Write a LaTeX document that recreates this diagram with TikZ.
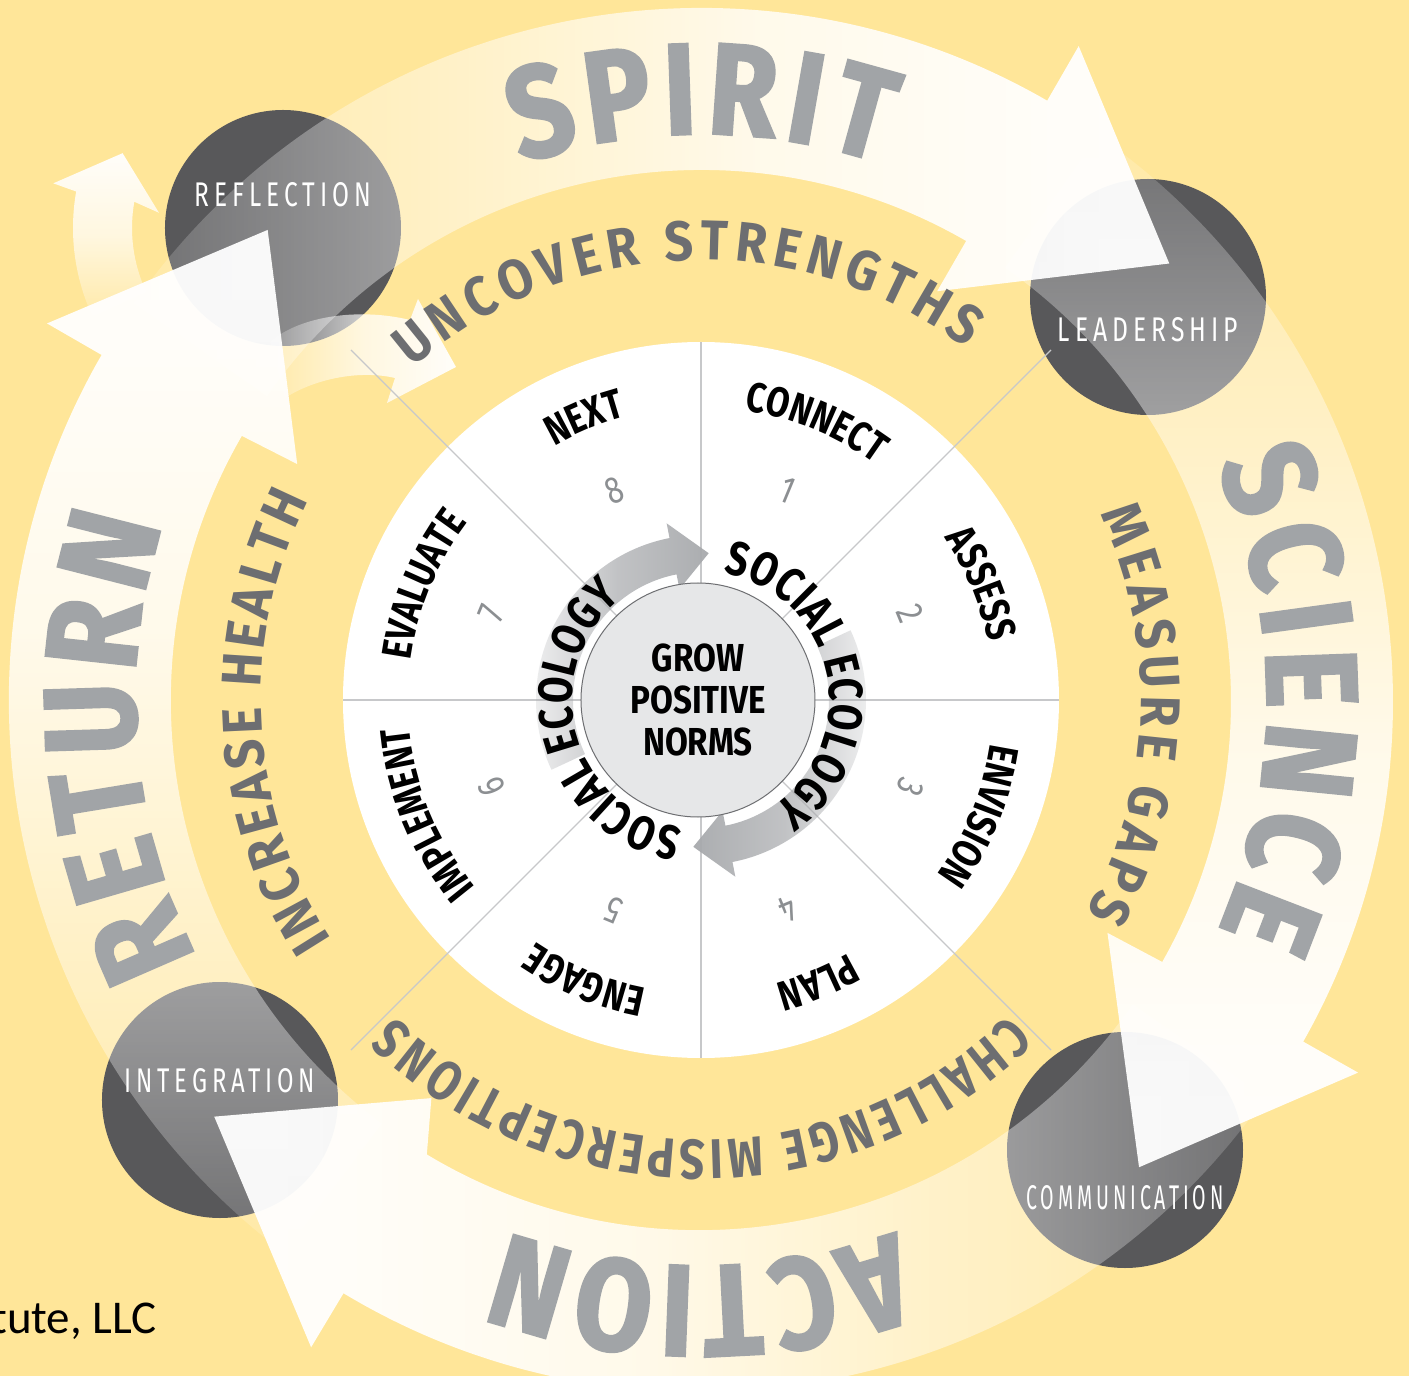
\documentclass[tikz,border=0pt]{standalone}
\usepackage{fontspec}
\usepackage{graphicx}
\usetikzlibrary{decorations.text}
\usetikzlibrary{fadings}
\usetikzlibrary{positioning}

\newfontfamily\firacond{Fira Sans}[FakeStretch=0.8]
\newfontfamily\firaring{Fira Sans}[FakeStretch=0.9]
\newfontfamily\firacore{Fira Sans}[FakeStretch=0.85]
\newfontfamily\firaheavy{Fira Sans}[FakeStretch=0.85, FakeBold=2]
\newfontfamily\firalab{Fira Sans}[FakeStretch=0.7, LetterSpace=14]
\newfontfamily\calib{Carlito}

\definecolor{bgyellow}{HTML}{FFE699}
\definecolor{hubgray}{HTML}{58585A}
\definecolor{wordgray}{HTML}{A1A4A7}
\definecolor{ringgray}{HTML}{6D6E71}
\definecolor{linegray}{HTML}{C7C8CA}
\definecolor{numgray}{HTML}{8C8F92}
\definecolor{corefill}{HTML}{E6E7E8}
\definecolor{coreline}{HTML}{6D6E71}
\definecolor{ecoarrow}{HTML}{A7A9AC}

\newcommand\wordfont{\firaheavy\bfseries\fontsize{130}{130}\selectfont\color{wordgray}}
\newcommand\ringfont{\firaring\bfseries\fontsize{56}{56}\selectfont\color{ringgray}}
\newcommand\tightringfont{\firacond\bfseries\fontsize{56}{56}\selectfont\color{ringgray}}
\newcommand\secfont{\firacond\bfseries\fontsize{42}{42}\selectfont\color{black}}
\newcommand\ecofont{\firacond\bfseries\fontsize{48}{48}\selectfont\color{black}}

% linear fadings for the small arrows
\tikzfading[name=ecoR, left color=transparent!85, right color=transparent!5, middle color=transparent!30]
\tikzfading[name=ecoL, right color=transparent!85, left color=transparent!5, middle color=transparent!30]
\tikzfading[name=ecoU, bottom color=transparent!85, top color=transparent!5, middle color=transparent!30]

% faint tail, white head for the big arrows (100bp square)
\begin{tikzfadingfrompicture}[name=fadeR]
\begin{scope}[x=10bp, y=10bp]
\shade[left color=transparent!92, right color=transparent!86] (-5,-5) rectangle (-2.49,5);
\shade[left color=transparent!86, right color=transparent!50] (-2.5,-5) rectangle (-0.79,5);
\shade[left color=transparent!50, right color=transparent!20] (-0.8,-5) rectangle (0.51,5);
\shade[left color=transparent!20, right color=transparent!5] (0.5,-5) rectangle (2.01,5);
\shade[left color=transparent!5, right color=transparent!3] (2,-5) rectangle (5,5);
\end{scope}
\end{tikzfadingfrompicture}
\begin{tikzfadingfrompicture}[name=fadeL]
\begin{scope}[x=10bp, y=10bp]
\shade[right color=transparent!92, left color=transparent!86] (2.49,-5) rectangle (5,5);
\shade[right color=transparent!86, left color=transparent!50] (0.79,-5) rectangle (2.5,5);
\shade[right color=transparent!50, left color=transparent!20] (-0.51,-5) rectangle (0.8,5);
\shade[right color=transparent!20, left color=transparent!5] (-2.01,-5) rectangle (-0.5,5);
\shade[right color=transparent!5, left color=transparent!3] (-5,-5) rectangle (-2,5);
\end{scope}
\end{tikzfadingfrompicture}
\begin{tikzfadingfrompicture}[name=fadeD]
\begin{scope}[x=10bp, y=10bp]
\shade[top color=transparent!92, bottom color=transparent!86] (-5,2.49) rectangle (5,5);
\shade[top color=transparent!86, bottom color=transparent!50] (-5,0.79) rectangle (5,2.5);
\shade[top color=transparent!50, bottom color=transparent!20] (-5,-0.51) rectangle (5,0.8);
\shade[top color=transparent!20, bottom color=transparent!5] (-5,-2.01) rectangle (5,-0.5);
\shade[top color=transparent!5, bottom color=transparent!3] (-5,-5) rectangle (5,-2);
\end{scope}
\end{tikzfadingfrompicture}
\begin{tikzfadingfrompicture}[name=fadeU]
\begin{scope}[x=10bp, y=10bp]
\shade[bottom color=transparent!92, top color=transparent!86] (-5,-5) rectangle (5,-2.49);
\shade[bottom color=transparent!86, top color=transparent!50] (-5,-2.5) rectangle (5,-0.79);
\shade[bottom color=transparent!50, top color=transparent!20] (-5,-0.8) rectangle (5,0.51);
\shade[bottom color=transparent!20, top color=transparent!5] (-5,0.5) rectangle (5,2.01);
\shade[bottom color=transparent!5, top color=transparent!3] (-5,2) rectangle (5,5);
\end{scope}
\end{tikzfadingfrompicture}

\tikzset{
  hub/.style={circle, fill=hubgray, minimum size=236pt, inner sep=0pt},
  hublabel/.style={text=white, inner sep=0pt},
  bigword/.style={decorate, decoration={text along path, text align={fit to path}, text={|\wordfont|#1}}},
  ringword/.style={decorate, decoration={text along path, text align={fit to path}, text={|\ringfont|#1}}},
  tightringword/.style={decorate, decoration={text along path, text align={fit to path}, text={|\tightringfont|#1}}},
  secword/.style={decorate, decoration={text along path, text align=center, text={|\secfont|#1}}},
  ecoword/.style={decorate, decoration={text along path, text align={fit to path}, text={|\ecofont|#1}}},
  numlabel/.style={text=numgray, font=\firacond\fontsize{38}{38}\selectfont, inner sep=0pt},
  divider/.style={draw=linegray, line width=1.1pt},
}

\begin{document}
\begin{tikzpicture}[x=1pt, y=1pt]
\useasboundingbox (-701,-676) rectangle (708,700);
\fill[bgyellow] (-701,-676) rectangle (708,700);

% the four stages
\node[hub] (reflect) at (-418,472) {};
\node[hub] (lead) at (447,403) {};
\node[hub] (comm) at (424,-450) {};
\node[hub] (integ) at (-481,-400) {};

% outer arrows
\foreach \tl/\bs/\bi/\ri/\tp/\fd in {145/60/60/472/43/fadeR, 55/-29.5/-29.7/468/-46.8/fadeD, -35/-121/-124/480/-139.4/fadeL, 233/150/149.6/468/132.6/fadeU}
  \fill[white, path fading=\fd] (\tl:692) arc[start angle=\tl, end angle=\bs, radius=692] -- (\bs:755) -- (\tp:640) -- (\bi:\ri) -- (\bs:530) arc[start angle=\bs, end angle=\tl, radius=530] -- cycle;

% small loop arrows at reflection
\begin{scope}[shift={(reflect.center)}]
\fill[white, path fading=ecoU] (205:210) arc[start angle=205, end angle=170, radius=210] -- (169:234) -- (155:177) -- (173:125) -- (170:151) arc[start angle=170, end angle=205, radius=151] -- cycle;
\end{scope}
\fill[white, path fading=ecoR] (-431,358) .. controls (-400,385) and (-340,392) .. (-291,380) -- (-283,401) -- (-245,333) -- (-314,297) -- (-306,322) .. controls (-340,330) and (-385,322) .. (-416,302) -- cycle;

% wheel
\node[circle, fill=white, minimum size=716pt, inner sep=0pt] (wheel) at (0,0) {};
\foreach \a in {0,90,180,270} \draw[divider] (0,0) -- (\a:358);
\foreach \a in {45,135,225,315} \draw[divider] (0,0) -- (\a:495);

% social ecology arrows
\fill[ecoarrow, path fading=ecoR] (205:165) arc[start angle=205, end angle=101, radius=165] -- (101:180) -- (87:147) -- (101:113) -- (101:128) arc[start angle=101, end angle=205, radius=128] -- cycle;
\fill[ecoarrow, path fading=ecoL] (25:165) arc[start angle=25, end angle=-79, radius=165] -- (-79:180) -- (-93:147) -- (-79:113) -- (-79:128) arc[start angle=-79, end angle=25, radius=128] -- cycle;

\node[circle, fill=corefill, draw=coreline, line width=1pt, minimum size=234pt, inner sep=0pt, align=center, font=\firacore\bfseries\fontsize{39}{42}\selectfont] (core) at (-3,0) {GROW\\POSITIVE\\NORMS};

% outer words
\path[bigword=SPIRIT] (108.5:566) arc[start angle=108.5, end angle=71.5, radius=566];
\path[bigword=SCIENCE] (24.5:566) arc[start angle=24.5, end angle=-24, radius=566];
\path[bigword=ACTION] (-70:566) arc[start angle=-70, end angle=-110, radius=566];
\path[bigword=RETURN] (207:566) arc[start angle=207, end angle=162, radius=566];

% inner ring words
\path[ringword={UNCOVER STRENGTHS}] (131:440) arc[start angle=131, end angle=53, radius=440];
\path[ringword={MEASURE GAPS}] (25:440) arc[start angle=25, end angle=-29, radius=440];
\path[tightringword={CHALLENGE MISPERCEPTIONS}] (-45.6:440) arc[start angle=-45.6, end angle=-134, radius=440];
\path[ringword={INCREASE HEALTH}] (213:440) arc[start angle=213, end angle=153, radius=440];

% steps
\foreach \a/\lab in {67.5/CONNECT, 22.5/ASSESS, -22.5/ENVISION, -67.5/PLAN, -112.5/ENGAGE, -157.5/IMPLEMENT, 157.5/EVALUATE, 112.5/NEXT}
  \path[secword/.expand once=\lab] ({\a+30}:293) arc[start angle=\a+30, end angle=\a-30, radius=293];
\foreach \a/\n in {67.5/1, 22.5/2, -22.5/3, -67.5/4, -112.5/5, -157.5/6, 157.5/7, 112.5/8}
  \node[numlabel, rotate=\a-90] (num\n) at (\a:227) {\n};

\path[ecoword={SOCIAL ECOLOGY}] (80:129) arc[start angle=80, end angle=-56, radius=129];
\path[ecoword={SOCIAL ECOLOGY}] (262:129) arc[start angle=262, end angle=128, radius=129];

% stage labels
\node[hublabel, above=21pt of reflect.center] (reflectlab) {\resizebox{176pt}{24pt}{\firalab REFLECTION}};
\node[hublabel, below=20pt of lead.center] (leadlab) {\resizebox{180pt}{24pt}{\firalab LEADERSHIP}};
\node[hublabel, below=35pt of comm.center] (commlab) {\resizebox{197pt}{24pt}{\firalab COMMUNICATION}};
\node[hublabel, above=7pt of integ.center] (integlab) {\resizebox{190pt}{24pt}{\firalab INTEGRATION}};

\node[anchor=base east, font=\calib\fontsize{47}{47}\selectfont, inner sep=0pt] (credit) at (-544,-633) {tute, LLC};
\end{tikzpicture}
\end{document}
